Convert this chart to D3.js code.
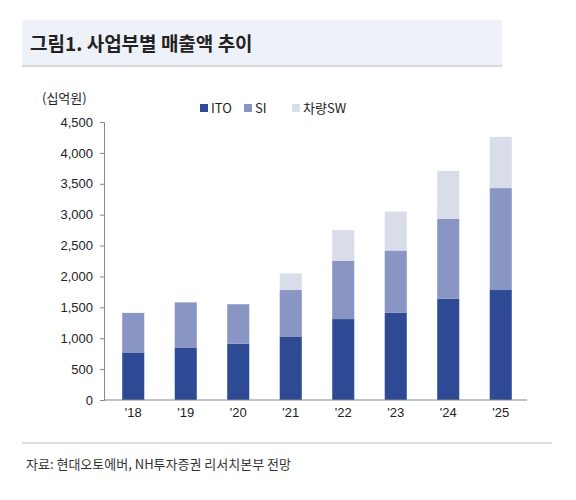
<!DOCTYPE html><html><head><meta charset="utf-8">
<script src="https://cdn.jsdelivr.net/npm/d3@7"></script>
<style>body{margin:0;background:#fff;font-family:"Noto Sans CJK KR","Noto Sans",sans-serif}</style></head><body>
<svg id="c" width="576" height="500"></svg>
<script>
const categories=["'18","'19","'20","'21","'22","'23","'24","'25"];
const ito=[770,850,910,1020,1310,1410,1640,1780];
const si=[640,730,640,760,940,1010,1290,1650];
const sw=[0,0,0,270,500,630,780,830];
const seriesNames=["ITO","SI","차량SW"];
const yTicks=[0,500,1000,1500,2000,2500,3000,3500,4000,4500];
const colors=["#2E4A94","#8995C3","#D9DDEA"];
const svg=d3.select("#c");
svg.append("rect").attr("x",22).attr("y",20).attr("width",480).attr("height",46).attr("fill","#EEF1F8");
svg.append("line").attr("x1",22).attr("x2",502).attr("y1",66).attr("y2",66).attr("stroke","#bbb");
svg.append("text").attr("x",30).attr("y",51).attr("font-size",19).attr("font-weight","bold").attr("fill","#222").text("그림1. 사업부별 매출액 추이");
const x=d3.scaleBand().domain(categories).range([107,527]).paddingInner(0.58).paddingOuter(0.29);
const y=d3.scaleLinear().domain([0,4500]).range([400,122]);
const data=categories.map((c,i)=>({c,ITO:ito[i],SI:si[i],"차량SW":sw[i]}));
const st=d3.stack().keys(seriesNames)(data);
st.forEach((s,k)=>svg.append("g").selectAll("rect").data(s).join("rect")
 .attr("x",d=>x(d.data.c)).attr("width",x.bandwidth()).attr("y",d=>y(d[1])).attr("height",d=>y(d[0])-y(d[1])).attr("fill",colors[k]));
const ya=svg.append("g").attr("transform","translate(104,0)").call(d3.axisLeft(y).tickValues(yTicks).tickFormat(d3.format(",")).tickSize(4));
ya.selectAll("text").attr("font-size",13).attr("fill","#222").attr("font-family","Liberation Sans Narrow,Liberation Sans,sans-serif").attr("dx",-4);
ya.select(".domain").attr("stroke","#888");ya.selectAll("line").attr("stroke","#888");
const xa=svg.append("g").attr("transform","translate(0,400)").call(d3.axisBottom(x).tickSize(0));
xa.select(".domain").attr("stroke","#888").attr("d","M104,0H527");
xa.selectAll("text").attr("font-size",13).attr("fill","#222").attr("dy",14).attr("font-family","Liberation Sans,sans-serif");
svg.append("text").attr("x",42).attr("y",103).attr("font-size",13).attr("fill","#222").text("(십억원)");
const lx=[200,244,292];
seriesNames.forEach((n,i)=>{svg.append("rect").attr("x",lx[i]).attr("y",104).attr("width",8).attr("height",8).attr("fill",colors[i]);
 svg.append("text").attr("x",lx[i]+11).attr("y",113).attr("font-size",13).attr("fill","#222").text(n);});
svg.append("line").attr("x1",22).attr("x2",552).attr("y1",443).attr("y2",443).attr("stroke","#bbb");
svg.append("text").attr("x",26).attr("y",469).attr("font-size",13).attr("fill","#333").text("자료: 현대오토에버, NH투자증권 리서치본부 전망");
</script></body></html>
